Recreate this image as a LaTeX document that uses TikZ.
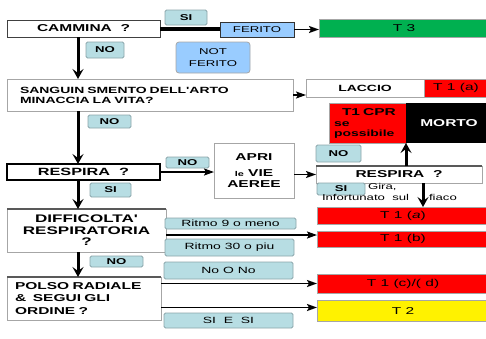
\documentclass[tikz,border=0pt]{standalone}
\usepackage{fontspec}
\newfontfamily\wf[FakeStretch=1.55]{Liberation Sans}
\usetikzlibrary{arrows.meta}
\definecolor{lblf}{HTML}{B7DDE3}
\definecolor{lblb}{HTML}{8AA5AA}
\definecolor{ferf}{HTML}{99CCFF}
\definecolor{grn}{HTML}{00B050}
\definecolor{gbord}{HTML}{A6A6A6}
\newcommand\fsz[2]{\fontsize{#1}{#2}\selectfont}
\begin{document}
\begin{tikzpicture}[x=1pt,y=-1pt,
 base/.style={anchor=north west, inner sep=0pt, outer sep=0pt},
 wbox/.style={base, draw=gbord, fill=white, line width=0.8pt},
 lbl/.style={base, draw=lblb, fill=lblf, rounded corners=1.5pt, line width=0.8pt, font=\wf\bfseries\fsz{8.5}{9}},
 rlbl/.style={lbl, font=\wf\fsz{9}{10}},
 res/.style={base, draw=gbord, line width=0.6pt, font=\wf\fsz{10}{11}},
 txt/.style={base, font=\wf\fsz{8.5}{9}},
 harrow/.style={line width=1.8pt, -{Stealth[length=10pt,width=7pt,inset=2pt]}},
 varrow/.style={line width=3pt, -{Stealth[length=10pt,width=11pt,inset=4pt]}},
 topline/.style={line width=1.6pt, black!65},
]
\useasboundingbox (0,0) rectangle (486,338);
\coordinate (spine) at (78,0);
\coordinate (spine2) at (423,0);

\node[wbox, draw=black!75, minimum width=153, minimum height=17, font=\wf\bfseries\fsz{10}{11}] (cam) at (7,20) {CAMMINA\ \ ?};
\node[lbl, minimum width=42, minimum height=15] (si1) at (165,10) {SI};
\node[base, draw=black!80, fill=ferf, line width=0.8pt, minimum width=74, minimum height=15, font=\wf\fsz{8.5}{9}] (fer) at (220,22) {FERITO};
\node[res, fill=grn, minimum width=170, minimum height=18] (t3) at (319,19) {T 3};
\node[base, draw=gbord, fill=ferf, rounded corners=3pt, line width=0.8pt, minimum width=74, minimum height=31, align=center, font=\wf\fsz{8.5}{12}] (notf) at (176,42) {NOT\\FERITO};
\node[lbl, minimum width=38, minimum height=16] (no1) at (86,42) {NO};

\node[wbox, minimum width=286, minimum height=32, text width=260, align=left, font=\wf\bfseries\fsz{9}{10}] (san) at (7,79) {SANGUIN SMENTO DELL'ARTO\\MINACCIA LA VITA?};
\node[wbox, minimum width=118, minimum height=18, font=\wf\bfseries\fsz{9}{10}] (lac) at (306,79) {LACCIO};
\node[res, fill=red, minimum width=64, minimum height=18] (t1z) at (424,79) {T 1 (a)};
\node[base, fill=red, draw=gbord, line width=0.6pt, minimum width=77, minimum height=40, text width=67, align=left, font=\wf\bfseries\fsz{9}{9.5}] (cpr) at (329,103) {{\fsz{10}{11}\hspace*{8pt}T1 CPR}\\[2pt]se\\possibile};
\node[base, fill=black, minimum width=86, minimum height=40, text=white, font=\wf\bfseries\fsz{10}{11}] (morto) at (406,103) {MORTO};
\node[lbl, minimum width=43, minimum height=13] (no2) at (88,115) {NO};

\node[wbox, draw=black, line width=1.2pt, minimum width=153, minimum height=16, font=\wf\bfseries\fsz{10.5}{11}] (resl) at (7,164) {RESPIRA\ \ ?};
\node[lbl, minimum width=43, minimum height=11] (no3) at (166,157) {NO};
\node[wbox, minimum width=80, minimum height=55, align=center, font=\wf\bfseries\fsz{10}{11}] (apri) at (214,143) {APRI\\[5pt]{\fsz{7}{8}le} VIE\\AEREE};
\node[lbl, minimum width=45, minimum height=17] (no4) at (316,145) {NO};
\node[wbox, minimum width=166, minimum height=17, font=\wf\bfseries\fsz{10}{11}] (resr) at (316,166) {RESPIRA\ \ ?};
\draw[topline] (resr.north west) -- (resr.north east);
\node[lbl, minimum width=41, minimum height=14] (si2) at (90,183) {SI};
\node[lbl, minimum width=48, minimum height=12] (si3) at (317,183) {SI};
\node[txt] (g1) at (368,183) {Gira,};
\node[txt] (g2) at (322,194) {Infortunato\ \ sul};
\node[txt] (g3) at (429,194) {fiaco};

\node[wbox, minimum width=159, minimum height=43, align=center, font=\wf\bfseries\fsz{11}{11.5}] (diff) at (7,209) {DIFFICOLTA'\\RESPIRATORIA\\?};
\draw[topline] (diff.north west) -- (diff.north east);
\node[rlbl, minimum width=131, minimum height=11] (r9) at (165,218) {Ritmo 9 o meno};
\node[rlbl, minimum width=129, minimum height=17] (r30) at (165,239) {Ritmo 30 o piu};
\node[res, fill=red, minimum width=172, minimum height=17] (t1a) at (317,207) {T 1 (\textit{a})};
\node[res, fill=red, minimum width=172, minimum height=16] (t1b) at (317,231) {T 1 (b)};

\node[rlbl, minimum width=129, minimum height=17] (non) at (164,262) {No O No};
\node[lbl, minimum width=53, minimum height=11] (no5) at (90,256) {NO};
\node[wbox, minimum width=154, minimum height=43, text width=138, align=left, font=\wf\bfseries\fsz{10}{12.5}] (pol) at (7,277) {POLSO RADIALE\\\&\ \ SEGUI GLI\\ORDINE ?};
\draw[topline] (pol.north west) -- (pol.north east);
\node[res, fill=red, minimum width=172, minimum height=19] (t1cd) at (317,274) {T 1 (c)/( d)};
\node[res, fill=yellow, minimum width=172, minimum height=21] (t2) at (317,300) {T 2};
\node[rlbl, minimum width=129, minimum height=15] (sisi) at (164,313) {SI\ \ E\ \ SI};

% connectors
\draw[varrow] (cam.south -| spine) -- (san.north -| spine);
\draw[varrow] (san.south -| spine) -- (resl.north -| spine);
\draw[varrow] (resl.south -| spine) -- (diff.north -| spine);
\draw[varrow] (diff.south -| spine) -- (pol.north -| spine);
\draw[line width=4pt] (cam.east) -- (cam.east -| fer.west);
\draw[harrow] (fer.east) -- (fer.east -| t3.west);
\draw[harrow, line width=1.3pt] (san.east) -- (san.east -| lac.west);
\draw[harrow] (resl.east) -- (resl.east -| apri.west);
\draw[harrow, line width=1.3pt] (apri.east |- resr.west) -- (resr.west);
\draw[varrow] (resr.north -| cpr.east) -- (cpr.south east);
\draw[varrow] (resr.south -| spine2) -- (t1a.north -| spine2);
\coordinate (dout) at ([yshift=-4.5pt]diff.east);
\draw[harrow] (dout) -- (dout -| t1b.west);
\draw[harrow] (pol.east |- t1cd.west) -- (t1cd.west);
\coordinate (t2in) at ([yshift=3pt]t2.west);
\draw[harrow] (pol.east |- t2in) -- (t2in);
\end{tikzpicture}
\end{document}
